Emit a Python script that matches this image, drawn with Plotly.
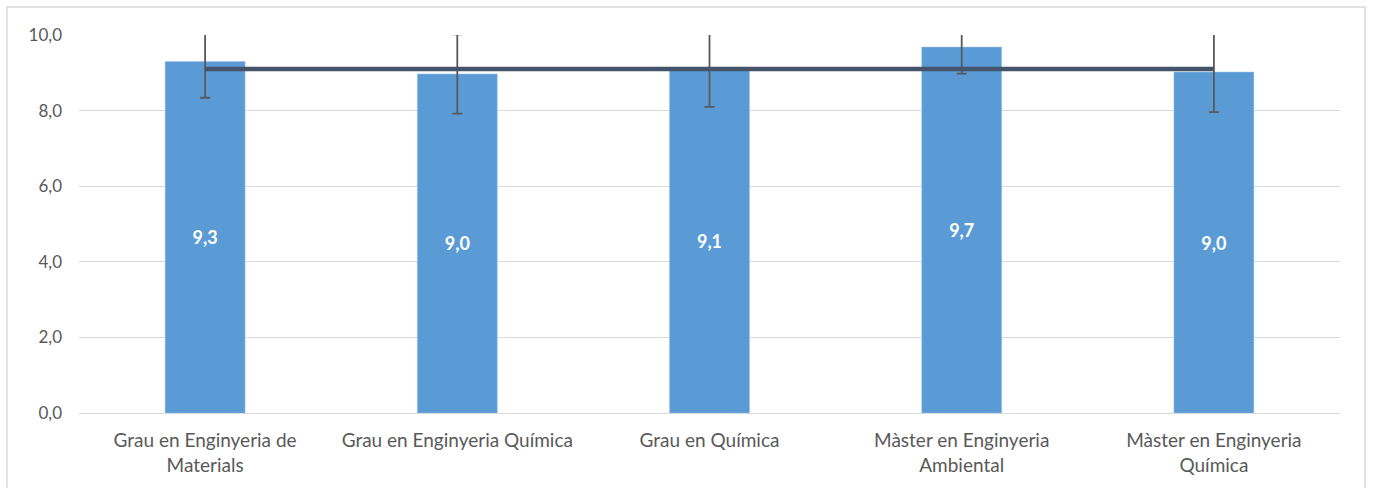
import plotly.graph_objects as go

categories = ["Grau en Enginyeria de<br>Materials", "Grau en Enginyeria Química",
              "Grau en Química", "Màster en Enginyeria<br>Ambiental",
              "Màster en Enginyeria<br>Química"]
values = [9.3, 8.97, 9.1, 9.68, 9.02]
errors = [0.96, 1.05, 1.0, 0.7, 1.06]
labels = ["9,3", "9,0", "9,1", "9,7", "9,0"]
mean_values = [9.1, 9.1, 9.1, 9.1, 9.1]
y_ticks = [0, 2, 4, 6, 8, 10]

W, H = 1373, 488
L, R, T, B = 79, 33, 35, 75
pw, ph = W - L - R, H - T - B

fig = go.Figure()
fig.add_trace(go.Bar(
    x=categories, y=values, width=0.317,
    marker=dict(color="#5B9BD5", line=dict(color="#9DC3E6", width=0.5)),
    text=labels, textposition="inside", insidetextanchor="middle",
    textfont=dict(color="white", size=18, family="Lato", weight="bold"),
    error_y=dict(type="data", array=errors, visible=True, color="#595959",
                 thickness=1.8, width=5),
    cliponaxis=True, showlegend=False,
))
fig.add_trace(go.Scatter(
    x=categories, y=mean_values, mode="lines",
    line=dict(color="#44546A", width=4.5), showlegend=False, hoverinfo="skip",
))

def px_x(v):
    return (v - L) / pw

def px_y(v):
    return (H - B - v) / ph

fig.add_shape(type="rect", xref="paper", yref="paper",
              x0=px_x(7), x1=px_x(1365), y0=px_y(500), y1=px_y(7),
              line=dict(color="#D9D9D9", width=1.5), layer="below")

fig.update_layout(
    width=W, height=H,
    margin=dict(l=L, r=R, t=T, b=B),
    paper_bgcolor="white", plot_bgcolor="white",
    separators=",.",
    bargap=0.68,
    font=dict(family="Lato", color="#595959", size=18),
    xaxis=dict(showgrid=False, showline=False, ticks="",
               tickfont=dict(size=19, color="#595959"), ticklabelstandoff=14),
    yaxis=dict(range=[0, 10], tickvals=y_ticks, tickformat=".1f",
               showgrid=True, gridcolor="#D9D9D9", gridwidth=1.3,
               zeroline=True, zerolinecolor="#D9D9D9", zerolinewidth=1.3,
               showline=False, ticks="", ticklabelstandoff=16,
               tickfont=dict(size=17, color="#595959")),
)

fig.write_html("out.html", config={"displayModeBar": False},
               post_script="document.body.style.margin='0';document.body.style.overflow='hidden';")
